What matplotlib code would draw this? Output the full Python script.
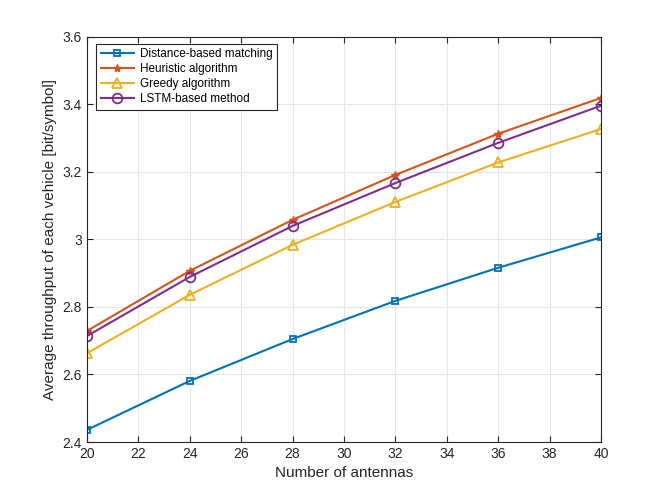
import matplotlib
matplotlib.use('Agg')
import matplotlib.pyplot as plt

plt.rcParams['font.family'] = ['Liberation Sans', 'DejaVu Sans']

antennas = [20, 24, 28, 32, 36, 40]
distance_based = [2.436, 2.581, 2.705, 2.818, 2.916, 3.006]
heuristic = [2.729, 2.907, 3.058, 3.191, 3.313, 3.419]
greedy = [2.663, 2.836, 2.984, 3.111, 3.228, 3.327]
lstm = [2.714, 2.889, 3.040, 3.167, 3.286, 3.396]

fig = plt.figure(figsize=(6.64, 4.98), dpi=100)
ax = fig.add_axes([0.131, 0.1124, 0.774, 0.8136])

ax.plot(antennas, distance_based, color='#0072BD', marker='s', markersize=5,
        markerfacecolor='none', markeredgewidth=1.3, lw=1.5, label='Distance-based matching')
ax.plot(antennas, heuristic, color='#D95319', marker='*', markersize=6,
        lw=1.5, label='Heuristic algorithm')
ax.plot(antennas, greedy, color='#EDB120', marker='^', markersize=7.5,
        markerfacecolor='none', markeredgewidth=1.3, lw=1.5, label='Greedy algorithm')
ax.plot(antennas, lstm, color='#7E2F8E', marker='o', markersize=7,
        markerfacecolor='none', markeredgewidth=1.3, lw=1.5, label='LSTM-based method')

ax.set_xlim(20, 40)
ax.set_ylim(2.4, 3.6)
ax.set_xticks(range(20, 41, 2))
ax.set_yticks([2.4, 2.6, 2.8, 3.0, 3.2, 3.4, 3.6])
ax.set_yticklabels(['2.4', '2.6', '2.8', '3', '3.2', '3.4', '3.6'])
ax.grid(True, color='#e6e6e6', lw=0.8)
ax.set_axisbelow(True)
for s in ax.spines.values():
    s.set_color('#262626')
    s.set_linewidth(0.8)
ax.tick_params(direction='in', length=4, colors='#262626', labelsize=10,
               top=True, right=True)
ax.set_xlabel('Number of antennas', fontsize=11, color='#262626')
ax.set_ylabel('Average throughput of each vehicle [bit/symbol]', fontsize=11, color='#262626')

leg = ax.legend(loc='upper left', bbox_to_anchor=(0.0175, 0.983), borderaxespad=0,
                fontsize=8.5, fancybox=False, framealpha=1, edgecolor='#262626',
                borderpad=0.4, labelspacing=0.25, handlelength=2.8, handletextpad=0.5)
leg.get_frame().set_linewidth(0.8)

fig.savefig('out.png', dpi=100)
